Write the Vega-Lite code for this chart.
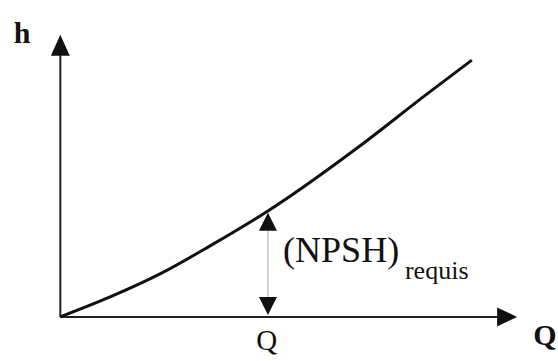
{
  "$schema": "https://vega.github.io/schema/vega-lite/v6.json",
  "width": 558,
  "height": 361,
  "padding": 0,
  "autosize": {"type": "fit", "contains": "padding"},
  "background": "white",
  "config": {"view": {"stroke": null}},
  "encoding": {
    "x": {"field": "x", "type": "quantitative", "axis": null, "scale": {"domain": [-1.47, 12.13], "nice": false, "zero": false}},
    "y": {"field": "y", "type": "quantitative", "axis": null, "scale": {"domain": [-1.1, 7.9], "nice": false, "zero": false}}
  },
  "layer": [
    {
      "data": {"values": [
        {"x": 0, "y": 0, "x2": 10.67, "y2": 0},
        {"x": 0, "y": 0, "x2": 0, "y2": 6.53}
      ]},
      "mark": {"type": "rule", "stroke": "#222222", "strokeWidth": 2},
      "encoding": {"x2": {"field": "x2"}, "y2": {"field": "y2"}}
    },
    {
      "data": {"values": [
        {"x": 5.06, "y": 0.27, "y2": 2.37}
      ]},
      "mark": {"type": "rule", "stroke": "#a8a8a8", "strokeWidth": 1},
      "encoding": {"y2": {"field": "y2"}}
    },
    {
      "data": {"values": [
        {"x": 0, "y": 0},
        {"x": 1.2, "y": 0.49},
        {"x": 2.43, "y": 1.07},
        {"x": 3.65, "y": 1.77},
        {"x": 5.06, "y": 2.64},
        {"x": 7.3, "y": 4.26},
        {"x": 8.94, "y": 5.56},
        {"x": 10.03, "y": 6.4}
      ]},
      "mark": {"type": "line", "stroke": "#111111", "strokeWidth": 3, "interpolate": "monotone"}
    },
    {
      "data": {"values": [{"x": 0, "y": 6.77}]},
      "mark": {"type": "point", "shape": "M0,-1L-0.9,1L0.9,1Z", "size": 441, "filled": true, "fill": "#111111", "opacity": 1, "strokeWidth": 0}
    },
    {
      "data": {"values": [{"x": 10.89, "y": 0}]},
      "mark": {"type": "point", "shape": "M1,0L-1,-0.95L-1,0.95Z", "size": 400, "filled": true, "fill": "#111111", "opacity": 1, "strokeWidth": 0}
    },
    {
      "data": {"values": [{"x": 5.06, "y": 2.37}]},
      "mark": {"type": "point", "shape": "M0,-1L-1,1L1,1Z", "size": 324, "filled": true, "fill": "#111111", "opacity": 1, "strokeWidth": 0}
    },
    {
      "data": {"values": [{"x": 5.06, "y": 0.27}]},
      "mark": {"type": "point", "shape": "M0,1L-1,-1L1,-1Z", "size": 324, "filled": true, "fill": "#111111", "opacity": 1, "strokeWidth": 0}
    },
    {
      "data": {"values": [
        {"x": -0.93, "y": 6.83, "label": "h"},
        {"x": 11.81, "y": -0.7, "label": "Q"}
      ]},
      "mark": {"type": "text", "font": "Liberation Serif", "fontWeight": "bold", "fontSize": 30, "align": "center", "baseline": "alphabetic", "fill": "#111111"},
      "encoding": {"text": {"field": "label"}}
    },
    {
      "data": {"values": [
        {"x": 5.03, "y": -0.83, "label": "Q"}
      ]},
      "mark": {"type": "text", "font": "Liberation Serif", "fontSize": 29, "align": "center", "baseline": "alphabetic", "fill": "#111111"},
      "encoding": {"text": {"field": "label"}}
    },
    {
      "data": {"values": [
        {"x": 5.43, "y": 1.37, "label": "(NPSH)"}
      ]},
      "mark": {"type": "text", "font": "Liberation Serif", "fontSize": 36, "align": "left", "baseline": "alphabetic", "fill": "#111111"},
      "encoding": {"text": {"field": "label"}}
    },
    {
      "data": {"values": [
        {"x": 8.4, "y": 0.945, "label": "requis"}
      ]},
      "mark": {"type": "text", "font": "Liberation Serif", "fontSize": 26, "align": "left", "baseline": "alphabetic", "fill": "#111111"},
      "encoding": {"text": {"field": "label"}}
    }
  ]
}
